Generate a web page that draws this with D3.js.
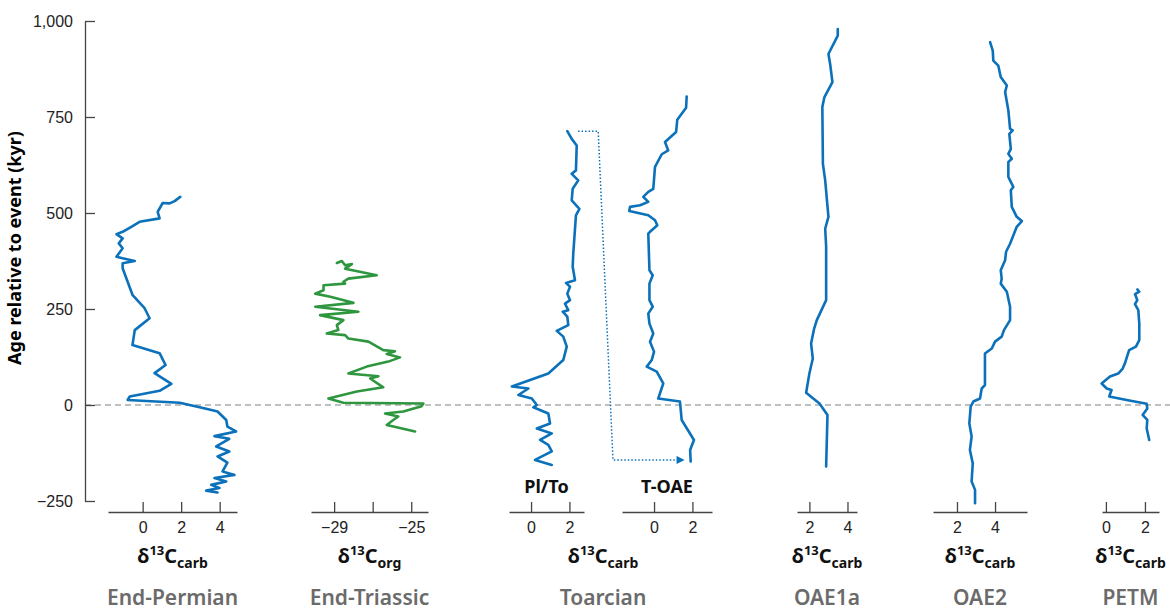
<!DOCTYPE html>
<html>
<head>
<meta charset="utf-8">
<script src="https://d3js.org/d3.v7.min.js"></script>
<style>
  body { margin: 0; background: #fff; }
  svg { display: block; font-family: "Noto Sans", "Open Sans", sans-serif; }
  .tick text { font-size: 16px; fill: #222; }
  .axis path, .axis line { stroke: #444; stroke-width: 1.3; }
</style>
</head>
<body>
<svg width="1170" height="612"></svg>
<script>
// [age (kyr), d13C] pairs
var endPermian = [[542,1.95],[531,1.66],[525,1.4],[526,1.04],[503,0.78],[486,0.88],[477,-0.16],[464,-0.59],
  [451,-1.04],[445,-1.36],[434,-1.04],[421,-1.24],[408,-1.04],[386,-1.36],[382,-1.04],[375,-0.41],[369,-1.04],
  [356,-1.04],[286,-0.52],[252,0.1],[226,0.36],[195,-0.41],[156,-0.53],[135,0.88],[104,1.19],[83,0.62],[55,1.49],
  [37,0.88],[22,-0.67],[13,-0.78],[6,1.92],[-10,3.3],[-17,3.89],[-39,4.34],[-56,4.4],[-69,4.85],[-81,3.73],
  [-88,4.5],[-108,3.82],[-121,4.5],[-134,3.89],[-150,4.4],[-173,4.15],[-182,4.77],[-190,3.73],[-199,4.34],
  [-208,3.56],[-216,3.99],[-223,3.3],[-228,3.89]];

var endTriassic = [[370,-28.86],[375,-28.6],[364,-28.43],[367,-28.08],[355,-28.43],[338,-26.79],[329,-28.26],
  [321,-28.52],[316,-28.43],[312,-29.55],[299,-29.55],[290,-29.98],[282,-29.2],[266,-28.0],[256,-29.98],
  [243,-27.74],[234,-29.73],[221,-28.52],[208,-28.86],[195,-28.78],[186,-29.38],[182,-28.43],[173,-28.26],
  [165,-27.22],[143,-26.45],[140,-25.84],[133,-26.27],[124,-25.58],[113,-26.19],[100,-27.31],[82,-28.26],
  [75,-26.7],[69,-27.13],[46,-26.45],[35,-27.82],[17,-29.3],[6,-28.52],[4,-24.37],[-3,-24.46],[-17,-25.41],
  [-22,-26.36],[-30,-25.67],[-39,-25.93],[-52,-26.27],[-69,-24.8]];

var toarcianPlTo = [[713,1.89],[693,2.12],[676,2.38],[611,2.34],[602,2.12],[585,2.46],[563,2.17],[533,2.12],
  [511,2.52],[494,2.34],[394,2.2],[360,2.17],[325,2.29],[318,1.82],[308,2.03],[290,1.89],[273,2.03],[264,1.77],
  [247,1.94],[243,1.65],[230,1.89],[208,1.94],[193,1.34],[178,1.68],[152,1.86],[117,1.68],[82,0.9],[65,-0.05],
  [48,-1.0],[43,-0.14],[26,-0.66],[17,0.04],[0,0.3],[-6,0.12],[-22,0.9],[-48,0.99],[-61,0.3],[-74,1.08],
  [-91,0.47],[-104,0.9],[-121,1.08],[-143,0.21],[-156,1.08]];

var toarcianTOAE = [[803,1.7],[774,1.67],[743,1.21],[711,1.15],[685,0.57],[663,0.74],[653,0.4],[620,0.05],
  [563,-0.04],[555,-0.3],[542,-0.56],[529,-0.3],[520,-0.73],[516,-1.25],[505,-1.29],[494,-0.3],[481,0.05],
  [468,0.17],[451,-0.21],[446,-0.3],[351,-0.24],[338,-0.07],[316,-0.24],[273,-0.24],[256,-0.07],[238,-0.3],
  [212,-0.24],[186,-0.04],[165,-0.21],[139,0],[117,-0.12],[100,-0.38],[87,0.14],[56,0.48],[17,0.22],[9,1.35],
  [-39,1.44],[-91,2.08],[-117,1.88],[-147,1.91]];

var oae1a = [[979,3.49],[962,3.49],[914,3.0],[888,3.09],[841,3.21],[802,2.79],[776,2.68],[628,2.71],[585,2.83],
  [490,3.0],[459,2.83],[412,2.88],[273,2.88],[221,2.39],[199,2.25],[160,2.09],[121,2.18],[82,2.0],[32,1.83],
  [4,2.53],[-26,2.95],[-160,2.88]];

var oae2 = [[945,3.74],[923,3.88],[897,3.91],[884,4.17],[854,4.3],[832,4.62],[815,4.53],[767,4.7],[719,4.79],
  [715,4.93],[706,4.75],[667,4.83],[654,4.7],[641,4.88],[633,4.7],[594,4.7],[568,4.96],[559,4.83],[516,4.88],
  [490,5.14],[479,5.41],[464,5.14],[420,4.79],[399,4.58],[377,4.53],[351,4.3],[329,4.35],[316,4.3],[295,4.62],
  [256,4.79],[221,4.79],[195,4.47],[178,4.35],[165,4.0],[147,3.83],[134,3.47],[52,3.47],[43,3.3],[17,3.21],
  [9,2.86],[-4,2.72],[-48,2.65],[-82,2.77],[-117,2.68],[-152,2.83],[-199,2.77],[-221,2.95],[-256,2.95]];

var petm = [[301,1.61],[295,1.71],[289,1.49],[273,1.61],[263,1.49],[247,1.66],[212,1.71],[169,1.71],[152,1.54],
  [143,1.19],[108,0.97],[95,0.86],[82,0.63],[74,0.21],[56,-0.22],[43,0.04],[39,0.29],[22,0.17],[13,1.06],
  [3,2.09],[-9,2.12],[-26,1.88],[-39,2.12],[-61,2.09],[-91,2.22]];

var ageTicks = [-250, 0, 250, 500, 750, 1000];
var events = ["End-Permian", "End-Triassic", "Toarcian", "OAE1a", "OAE2", "PETM"];

var blue = "#0b71ba", green = "#2e963f";

var panels = [
  {data: endPermian, color: blue, domain: [-1.8, 4.9], range: [108, 237], ticks: [0, 2, 4], sub: "carb", event: 0},
  {data: endTriassic, color: green, domain: [-30.2, -24.13], range: [311, 428], ticks: [-29, -27, -25], sub: "org", event: 1, hide: -27},
  {data: toarcianPlTo, color: blue, domain: [-1.15, 2.76], range: [509, 584], ticks: [0, 2], top: "Pl/To"},
  {data: toarcianTOAE, color: blue, domain: [-1.67, 3.02], range: [622, 712], ticks: [0, 2], top: "T-OAE"},
  {data: oae1a, color: blue, domain: [1.35, 4.5], range: [797, 857], ticks: [2, 4], sub: "carb", event: 3},
  {data: oae2, color: blue, domain: [0.74, 5.68], range: [933, 1027], ticks: [2, 4], sub: "carb", event: 4},
  {data: petm, color: blue, domain: [-0.2, 2.72], range: [1102, 1159], ticks: [0, 2], sub: "carb", event: 5}
];

var svg = d3.select("svg");
var y = d3.scaleLinear().domain([-250, 1000]).range([501, 21]);
var fmt = d3.format(",");

// zero line
svg.append("line")
  .attr("x1", 85).attr("x2", 1170)
  .attr("y1", y(0)).attr("y2", y(0))
  .attr("stroke", "#aaa").attr("stroke-width", 1.5)
  .attr("stroke-dasharray", "6,4");

// y axis
svg.append("g")
  .attr("class", "axis")
  .attr("transform", "translate(85,0)")
  .call(d3.axisLeft(y).tickValues(ageTicks).tickFormat(fmt).tickSize(-10).tickSizeOuter(0).tickPadding(12));

svg.append("text")
  .attr("transform", "translate(21,248) rotate(-90)")
  .attr("text-anchor", "middle")
  .style("font-size", "18px").style("font-weight", "bold")
  .text("Age relative to event (kyr)");

function deltaLabel(cx, sub) {
  var t = svg.append("text")
    .attr("x", cx).attr("y", 563)
    .attr("text-anchor", "middle")
    .style("font-weight", "bold").style("font-size", "20px").attr("fill", "#111");
  t.append("tspan").text("δ");
  t.append("tspan").attr("dy", -8).style("font-size", "13px").text("13");
  t.append("tspan").attr("dy", 8).text("C");
  t.append("tspan").attr("dy", 5).style("font-size", "14px").text(sub);
}

function eventLabel(cx, name) {
  svg.append("text")
    .attr("x", cx).attr("y", 605)
    .attr("text-anchor", "middle")
    .style("font-size", "21px").style("font-weight", 600)
    .attr("fill", "#6b6b6b")
    .text(name);
}

var scales = [];
panels.forEach(function(p) {
  var x = d3.scaleLinear().domain(p.domain).range(p.range);
  scales.push(x);

  var ax = d3.axisBottom(x).tickValues(p.ticks).tickSize(-10).tickSizeOuter(0).tickPadding(10)
    .tickFormat(function(d) { return d === p.hide ? "" : fmt(d); });
  svg.append("g").attr("class", "axis")
    .attr("transform", "translate(0,512)")
    .call(ax);

  var line = d3.line()
    .x(function(d) { return x(d[1]); })
    .y(function(d) { return y(d[0]); });
  svg.append("path")
    .datum(p.data)
    .attr("fill", "none")
    .attr("stroke", p.color)
    .attr("stroke-width", 2.6)
    .attr("stroke-linejoin", "round")
    .attr("stroke-linecap", "round")
    .attr("d", line);

  var cx = (p.range[0] + p.range[1]) / 2;
  if (p.top) {
    svg.append("text")
      .attr("x", cx).attr("y", 493)
      .attr("text-anchor", "middle")
      .style("font-size", "18px").style("font-weight", "bold")
      .attr("fill", "#111")
      .text(p.top);
  }
  if (p.sub) {
    deltaLabel(cx, p.sub);
    eventLabel(cx, events[p.event]);
  }
});

// Toarcian shared labels
deltaLabel(603, "carb");
eventLabel(603, events[2]);

// dotted arrow linking Pl/To top to T-OAE base
svg.append("defs").append("marker")
  .attr("id", "arr")
  .attr("viewBox", "0 0 10 10")
  .attr("refX", 9).attr("refY", 5)
  .attr("markerWidth", 9).attr("markerHeight", 8)
  .attr("markerUnits", "userSpaceOnUse")
  .attr("orient", "auto")
  .append("path").attr("d", "M0,0L10,5L0,10Z").attr("fill", blue);

var xPl = scales[2], xT = scales[3];
var arrowPts = [[xPl(2.45), y(713)], [xPl(3.5), y(713)], [xPl(4.27), y(-143)], [xT(1.55), y(-143)]];
svg.append("path")
  .attr("d", d3.line()(arrowPts))
  .attr("fill", "none")
  .attr("stroke", blue)
  .attr("stroke-width", 1.5)
  .attr("stroke-dasharray", "1.5,2")
  .attr("marker-end", "url(#arr)");
</script>
</body>
</html>
